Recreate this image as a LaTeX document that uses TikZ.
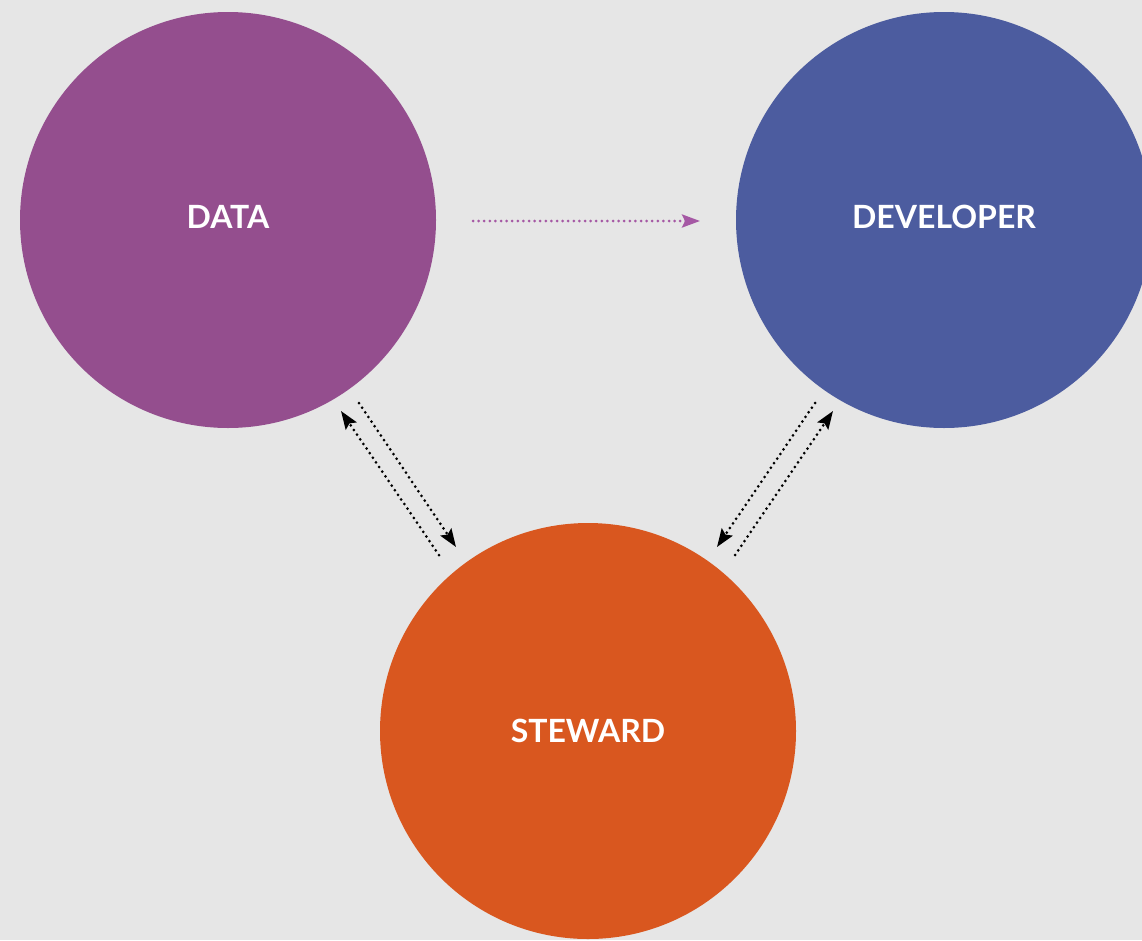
\documentclass[tikz,border=0pt]{standalone}
\usepackage{fontspec}
\setmainfont{Lato}
\usetikzlibrary{arrows.meta}
\definecolor{bg}{HTML}{E6E6E6}
\definecolor{cdata}{HTML}{944E8E}
\definecolor{cdev}{HTML}{4C5C9F}
\definecolor{cstew}{HTML}{D9571F}
\definecolor{carrow}{HTML}{A558A4}
\tikzset{
  bubble/.style={circle, draw=none, minimum size=416pt, inner sep=0pt, text=white, text depth=7pt, font=\fontsize{32}{38}\selectfont\bfseries},
  dotline/.style={line width=3pt, line cap=round, dash pattern=on 0pt off 5.6pt, -{Stealth[length=18pt,width=13pt,inset=3pt]}},
}
\begin{document}
\begin{tikzpicture}[x=1pt,y=-1pt]
\useasboundingbox (0,0) rectangle (1142,940);
\clip (0,0) rectangle (1142,940);
\fill[bg] (0,0) rectangle (1142,940);
\node[bubble, fill=cdata] (data) at (228,220) {DATA};
\node[bubble, fill=cdev] (dev) at (944,220) {DEVELOPER};
\node[bubble, fill=cstew, text depth=0pt] (stew) at (588,731) {STEWARD};
\coordinate (p1) at (473,221);
\coordinate (p2) at (700,221);
\draw[dotline, carrow] (p1) -- (p2);
\coordinate (a1) at (359,403);
\coordinate (a2) at (456,547);
\draw[dotline, black] (a1) -- (a2);
\coordinate (b1) at (439,555);
\coordinate (b2) at (341,411);
\draw[dotline, black] (b1) -- (b2);
\coordinate (c1) at (815,403);
\coordinate (c2) at (717,547);
\draw[dotline, black] (c1) -- (c2);
\coordinate (d1) at (735,555);
\coordinate (d2) at (833,411);
\draw[dotline, black] (d1) -- (d2);
\end{tikzpicture}
\end{document}
